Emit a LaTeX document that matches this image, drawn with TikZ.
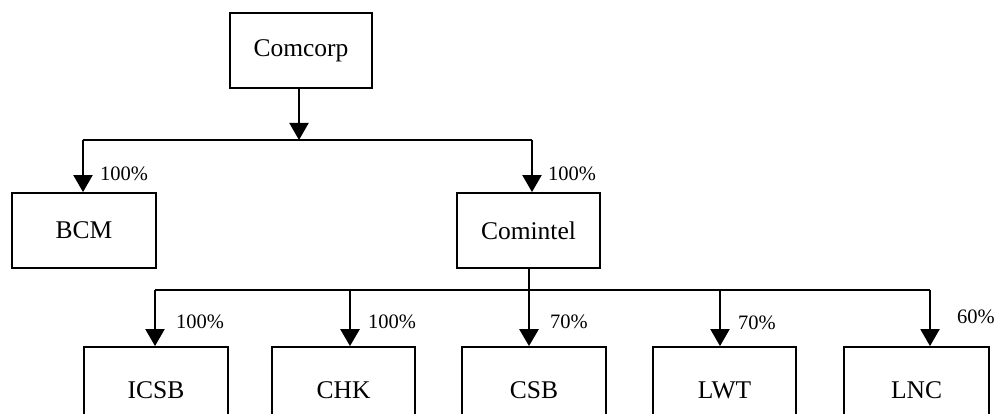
\documentclass[tikz,border=0pt]{standalone}
\usepackage{fontspec}
\setmainfont{Liberation Serif}
\usetikzlibrary{arrows.meta}
\begin{document}
\begin{tikzpicture}[x=1pt,y=-1pt,
 box/.style={draw, line width=1.8pt, inner sep=0pt, font=\fontsize{25.5}{30}\selectfont},
 topbox/.style={box, minimum height=75pt},
 botbox/.style={box, minimum height=86pt},
 arr/.style={line width=2pt, -{Triangle[width=19pt,length=17pt]}},
 thickarr/.style={arr, line width=2.8pt},
 ln/.style={line width=2pt},
 pct/.style={anchor=west, inner sep=0pt, font=\fontsize{20.5}{24}\selectfont}]
\useasboundingbox (0,0) rectangle (996,414);
\clip (0,0) rectangle (996,414);
% boxes
\node[topbox, minimum width=142pt] (comcorp) at (301,50.5) {Comcorp};
\node[topbox, minimum width=144pt] (bcm) at (84,230.5) {BCM};
\node[topbox, minimum width=143pt] (comintel) at (528.5,230.5) {Comintel};
\node[botbox, minimum width=144pt] (icsb) at (156,390) {ICSB};
\node[botbox, minimum width=143pt] (chk) at (343.5,390) {CHK};
\node[botbox, minimum width=144pt] (csb) at (534,390) {CSB};
\node[botbox, minimum width=143pt] (lwt) at (724.5,390) {LWT};
\node[botbox, minimum width=145pt] (lnc) at (916.5,390) {LNC};
% top connectors
\coordinate (t) at (299,140);
\coordinate (tl) at (83,140);
\coordinate (tr) at (532,140);
\draw[arr] (comcorp.south -| t) -- (t);
\draw[ln] (tl) -- (tr);
\draw[arr] (tl) -- (tl |- bcm.north);
\draw[arr] (tr) -- (tr |- comintel.north);
% bottom connectors
\coordinate (b1) at (155,290);
\coordinate (b2) at (350,290);
\coordinate (b3) at (529,290);
\coordinate (b4) at (720,290);
\coordinate (b5) at (930,290);
\draw[ln] (b1) -- (b5);
\draw[ln, line width=2.8pt] (comintel.south -| b3) -- (b3);
\draw[arr] (b1) -- (b1 |- icsb.north);
\draw[thickarr] (b2) -- (b2 |- chk.north);
\draw[thickarr] (b3) -- (b3 |- csb.north);
\draw[arr] (b4) -- (b4 |- lwt.north);
\draw[arr] (b5) -- (b5 |- lnc.north);
% labels
\node[pct] (l0) at (100,174) {100\%};
\node[pct] (l1) at (548,174) {100\%};
\node[pct] (l2) at (176,322) {100\%};
\node[pct] (l3) at (368,322) {100\%};
\node[pct] (l4) at (550,322) {70\%};
\node[pct] (l5) at (738,323) {70\%};
\node[pct] (l6) at (957,317) {60\%};
\end{tikzpicture}
\end{document}
